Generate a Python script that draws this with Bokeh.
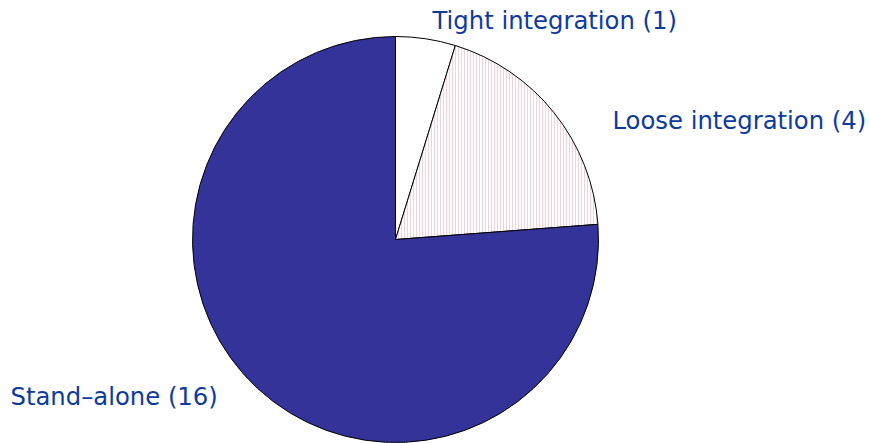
import math
from bokeh.plotting import figure
from bokeh.models import ColumnDataSource, Range1d
from bokeh.embed import file_html
from bokeh.resources import INLINE
from bokeh.core.properties import value

categories = ["Tight integration", "Loose integration", "Stand–alone"]
counts = [1, 4, 16]
fills = ["white", "white", "#343399"]
hatches = [" ", "|", " "]

W, H = 870, 443
cx, cy, r = 395, 443 - 239, 203

total = sum(counts)
starts, ends = [], []
a = math.pi / 2
for c in counts:
    sweep = 2 * math.pi * c / total
    ends.append(a)
    starts.append(a - sweep)
    a -= sweep

src = ColumnDataSource(dict(
    start=starts, end=ends, fill=fills, hatch=hatches,
    x=[cx] * 3, y=[cy] * 3,
))

p = figure(width=W, height=H, output_backend="svg", toolbar_location=None,
           x_range=Range1d(0, W), y_range=Range1d(0, H), min_border=0)
p.axis.visible = False
p.grid.visible = False
p.outline_line_color = None

p.wedge(x="x", y="y", radius=r, start_angle="start", end_angle="end",
        fill_color="fill", line_color="black", line_width=1,
        hatch_pattern="hatch", hatch_color="#f2d2de", hatch_scale=3,
        hatch_weight=1, source=src)

labels = [f"{c} ({n})" for c, n in zip(categories, counts)]
lx = [432, 612, 10]
ly = [443 - 20, 443 - 120, 443 - 396]
p.text(x=lx, y=ly, text=labels, text_font=value("DejaVu Sans"),
       text_font_size="24.3px", text_color="#0d3b9c", text_baseline="alphabetic")

open("out.html", "w").write(file_html(p, INLINE))
